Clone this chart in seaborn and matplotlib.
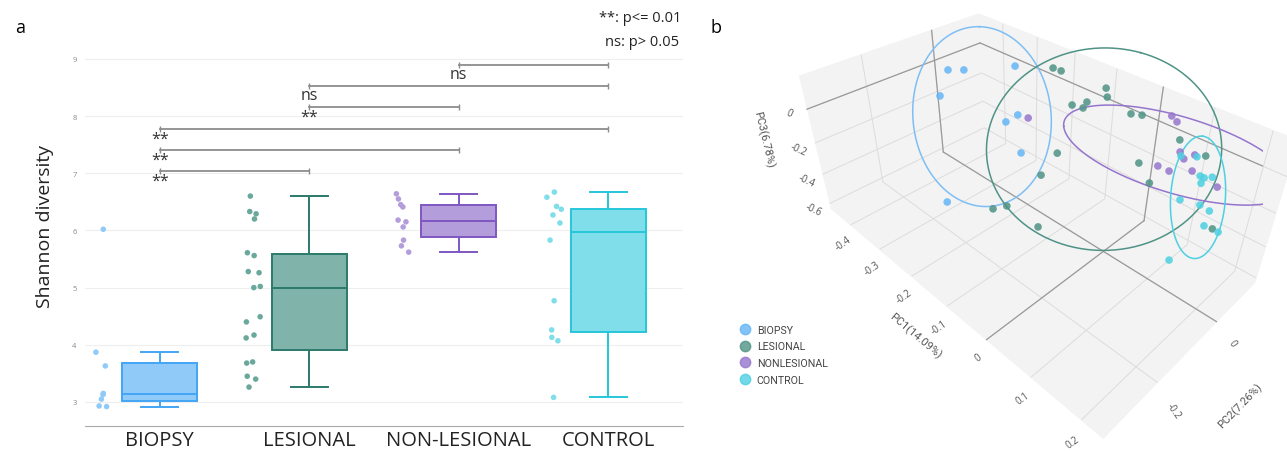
import numpy as np
import pandas as pd
import matplotlib
matplotlib.use("Agg")
import matplotlib.pyplot as plt
from matplotlib.lines import Line2D
from matplotlib.ticker import FuncFormatter
import seaborn as sns

W, H = 1287, 452
plt.rcParams['font.family'] = ['Open Sans', 'DejaVu Sans']

# ── Panel a: Shannon diversity per group ──────────────────────
groups = ["BIOPSY", "LESIONAL", "NON-LESIONAL", "CONTROL"]
biopsy = [6.02, 3.87, 3.63, 3.15, 3.13, 3.05, 2.93, 2.92]
lesional = [6.60, 6.33, 6.29, 6.20, 5.61, 5.56, 5.28, 5.26, 5.02, 5.00,
            4.49, 4.40, 4.17, 4.12, 3.70, 3.68, 3.45, 3.40, 3.26]
nonlesional = [6.64, 6.55, 6.45, 6.41, 6.18, 6.15, 6.06, 5.83, 5.73, 5.62]
control = [6.67, 6.58, 6.42, 6.37, 6.27, 6.13, 5.83, 4.77, 4.26, 4.13, 4.07, 3.08]

pairs = [(0, 1), (0, 2), (0, 3), (1, 2), (1, 3), (2, 3)]
pair_labels = ["**", "**", "**", "**", "ns", "ns"]
pair_heights = [7.03, 7.40, 7.77, 8.15, 8.52, 8.89]

fill_colors = ["#90caf9", "#80b3aa", "#b39ddb", "#80deea"]
edge_colors = ["#42a5f5", "#2b7a6c", "#7e57c2", "#26c6da"]
point_colors = ["#90caf9", "#6aa89c", "#b39ddb", "#80deea"]

# ── Panel b: PCA coordinates ──────────────────────────────────
pca_groups = ["BIOPSY", "LESIONAL", "NONLESIONAL", "CONTROL"]
biopsy_pc1 = [-0.389, -0.383, -0.357, -0.298, -0.229, -0.251, -0.186, -0.199]
biopsy_pc2 = [-0.039, 0.003, -0.097, 0.076, 0.003, -0.010, -0.038, -0.242]
biopsy_pc3 = [0.052, 0.025, -0.022, 0.071, -0.086, -0.141, -0.224, -0.307]
lesional_pc1 = [-0.106, -0.089, -0.216, -0.197, -0.090, -0.079, -0.108, -0.110, -0.131, -0.020,
                -0.001, 0.083, 0.135, -0.111, 0.041, -0.110, 0.074, -0.015, 0.190]
lesional_pc2 = [-0.212, -0.193, 0.101, 0.103, 0.104, 0.093, 0.069, 0.060, 0.053, 0.083,
                0.089, 0.075, 0.068, -0.017, 0.021, -0.068, 0.005, -0.195, 0.018]
lesional_pc3 = [-0.243, -0.224, 0.117, 0.117, 0.126, 0.098, 0.061, 0.034, 0.034, 0.080,
                0.089, 0.071, 0.061, -0.151, -0.049, -0.224, -0.095, -0.224, -0.187]
nonlesional_pc1 = [-0.207, 0.048, 0.062, 0.093, 0.106, 0.119, 0.073, 0.094, 0.129, 0.175]
nonlesional_pc2 = [0.010, 0.104, 0.098, 0.062, 0.052, 0.062, 0.029, 0.030, 0.040, 0.039]
nonlesional_pc3 = [-0.086, 0.126, 0.117, 0.034, 0.025, 0.052, -0.031, -0.031, 0.006, -0.012]
control_pc1 = [0.098, 0.122, 0.143, 0.150, 0.162, 0.150, 0.134, 0.165, 0.183, 0.182, 0.197, 0.169]
control_pc2 = [0.057, 0.065, 0.042, 0.042, 0.044, 0.034, 0.002, 0.010, 0.007, 0.001, 0.027, -0.078]
control_pc3 = [0.025, 0.043, -0.003, -0.003, 0.015, -0.022, -0.095, -0.086, -0.086, -0.160, -0.206, -0.261]

pca_colors = ["#64b5f6", "#4f9386", "#9575cd", "#4dd0e1"]
ell_colors = ["#7fbef5", "#4f9386", "#9575cd", "#4dd0e1"]

fig = plt.figure(figsize=(W / 100, H / 100), dpi=100)

# ── Boxplot with points ───────────────────────────────────────
ax = fig.add_axes([85 / W, 25.3 / H, (683 - 85) / W, 378.3 / H])
df = pd.DataFrame({
    "group": np.repeat(groups, [len(biopsy), len(lesional), len(nonlesional), len(control)]),
    "value": np.concatenate([biopsy, lesional, nonlesional, control]),
})
for i, g in enumerate(groups):
    sns.boxplot(data=df[df.group == g], x="group", y="value", order=groups,
                color=fill_colors[i], linecolor=edge_colors[i], linewidth=1.4,
                width=0.5, showfliers=False, saturation=1, ax=ax)
np.random.seed(2)
n_before = len(ax.collections)
sns.stripplot(data=df, x="group", y="value", order=groups, hue="group",
              palette=point_colors, size=4, jitter=0.06, legend=False, ax=ax)
# points sit to the left of each box
for coll in ax.collections[n_before:]:
    off = coll.get_offsets()
    off[:, 0] -= 0.37
    coll.set_offsets(off)

for (a_, b_), lab, h in zip(pairs, pair_labels, pair_heights):
    ax.plot([a_, b_], [h, h], color="#8c8c8c", lw=1.3, marker="|", markersize=4)
    ax.text(a_, h - 0.16, lab, ha="center", va="center", fontsize=11.5, color="#333333")

ax.set_xlim(-0.5, 3.5)
ax.set_ylim(2.585, 9.2)
ax.set_yticks(range(3, 10))
ax.yaxis.grid(True, color="#eeeeee", lw=0.8)
ax.set_axisbelow(True)
for s in ["top", "right", "left"]:
    ax.spines[s].set_visible(False)
ax.spines["bottom"].set_color("#aaaaaa")
ax.tick_params(axis="y", length=0, labelsize=5.5, labelcolor="#888888", pad=6)
ax.tick_params(axis="x", length=0, labelsize=14.5, labelcolor="#222222", pad=3)
ax.set_xlabel("")
ax.set_ylabel("Shannon diversity", fontsize=14, color="#222222")
ax.yaxis.set_label_coords(-0.052, 0.53)

fig.text(15 / W, 1 - 28 / H, "a", fontsize=13, va="center")
fig.text(710 / W, 1 - 28 / H, "b", fontsize=13, va="center")
fig.text(681 / W, 1 - 18 / H, "**: p<= 0.01", ha="right", va="center", fontsize=10.5, color="#222222")
fig.text(679 / W, 1 - 42 / H, "ns: p> 0.05", ha="right", va="center", fontsize=10.5, color="#222222")

# ── 3D PCA scatter ────────────────────────────────────────────
x0, x1, y0, y1, z0, z1 = -0.4757, 0.2392, -0.3530, 0.1529, -0.6300, 0.1813
ax3 = fig.add_axes([777.9 / W, 22.24 / H, 485.48 / W, 485.48 / H], projection="3d")
ax3.view_init(elev=35.95, azim=-44.93)
ax3.set_box_aspect((1, 0.586, 0.4128))
ax3.set_proj_type("persp", focal_length=0.2346)
ax3.set_xlim(x0, x1)
ax3.set_ylim(y0, y1)
ax3.set_zlim(z0, z1)
ax3.computed_zorder = False

# zero lines on the visible panes
zl = dict(color="#9a9a9a", lw=0.9, zorder=1)
ax3.plot([x0, x0], [y0, y1], [0, 0], **zl)
ax3.plot([x0, x0], [0, 0], [z0, z1], **zl)
ax3.plot([x0, x1], [y1, y1], [0, 0], **zl)
ax3.plot([0, 0], [y1, y1], [z0, z1], **zl)
ax3.plot([0, 0], [y0, y1], [z0, z0], **zl)
ax3.plot([x0, x1], [0, 0], [z0, z0], **zl)

pca_data = [
    (biopsy_pc1, biopsy_pc2, biopsy_pc3),
    (lesional_pc1, lesional_pc2, lesional_pc3),
    (nonlesional_pc1, nonlesional_pc2, nonlesional_pc3),
    (control_pc1, control_pc2, control_pc3),
]
t = np.linspace(0, 2 * np.pi, 120)
handles = []
for i, (xs, ys, zs) in enumerate(pca_data):
    Pg = np.column_stack([xs, ys, zs])
    m = Pg.mean(axis=0)
    vals, vecs = np.linalg.eigh(np.cov(Pg.T))
    E = m + 1.95 * (np.sqrt(vals[2]) * np.outer(np.cos(t), vecs[:, 2]) +
                    np.sqrt(vals[1]) * np.outer(np.sin(t), vecs[:, 1]))
    ax3.plot(E[:, 0], E[:, 1], E[:, 2], color=ell_colors[i], lw=1.1, zorder=2)
    ax3.scatter(xs, ys, zs, s=30, color=pca_colors[i], alpha=0.85, depthshade=False,
                edgecolors="none", zorder=3)
    handles.append(Line2D([], [], ls="none", marker="o", markersize=7.5,
                          color=pca_colors[i], alpha=0.8))

ax3.set_xticks([-0.4, -0.3, -0.2, -0.1, 0, 0.1, 0.2])
ax3.set_yticks([-0.2, 0])
ax3.set_zticks([-0.6, -0.4, -0.2, 0])
fmt = FuncFormatter(lambda v, pos: f"{v:g}")
for a in (ax3.xaxis, ax3.yaxis, ax3.zaxis):
    a.set_major_formatter(fmt)
    a.set_pane_color((0.953, 0.953, 0.953, 1.0))
    a.line.set_color((0, 0, 0, 0))
    a._axinfo["grid"].update(color="#dcdcdc", linewidth=0.7)
    a._axinfo["tick"].update(inward_factor=0, outward_factor=0)
ax3.zaxis.set_ticks_position("lower")
ax3.zaxis.set_label_position("lower")
ax3.tick_params(labelsize=7, labelcolor="#555555", pad=0)
for lbl in ax3.get_xticklabels():
    lbl.set_rotation(35)
for lbl in ax3.get_yticklabels():
    lbl.set_rotation(-55)
for lbl in ax3.get_zticklabels():
    lbl.set_rotation(-25)
lab = dict(fontsize=8, color="#555555", family="Roboto")
ax3.set_xlabel("PC1(14.09%)", **lab)
ax3.set_ylabel("PC2(7.26%)", **lab)
ax3.set_zlabel("PC3(6.78%)", **lab)

fig.legend(handles, pca_groups, loc="upper left", bbox_to_anchor=(730 / W, 1 - 316 / H),
           frameon=False, prop={"family": "Roboto", "size": 7.7}, labelcolor="#444444",
           handletextpad=0.6, labelspacing=0.62, handlelength=1.0)

fig.savefig("out.png", dpi=100)
plt.close()
